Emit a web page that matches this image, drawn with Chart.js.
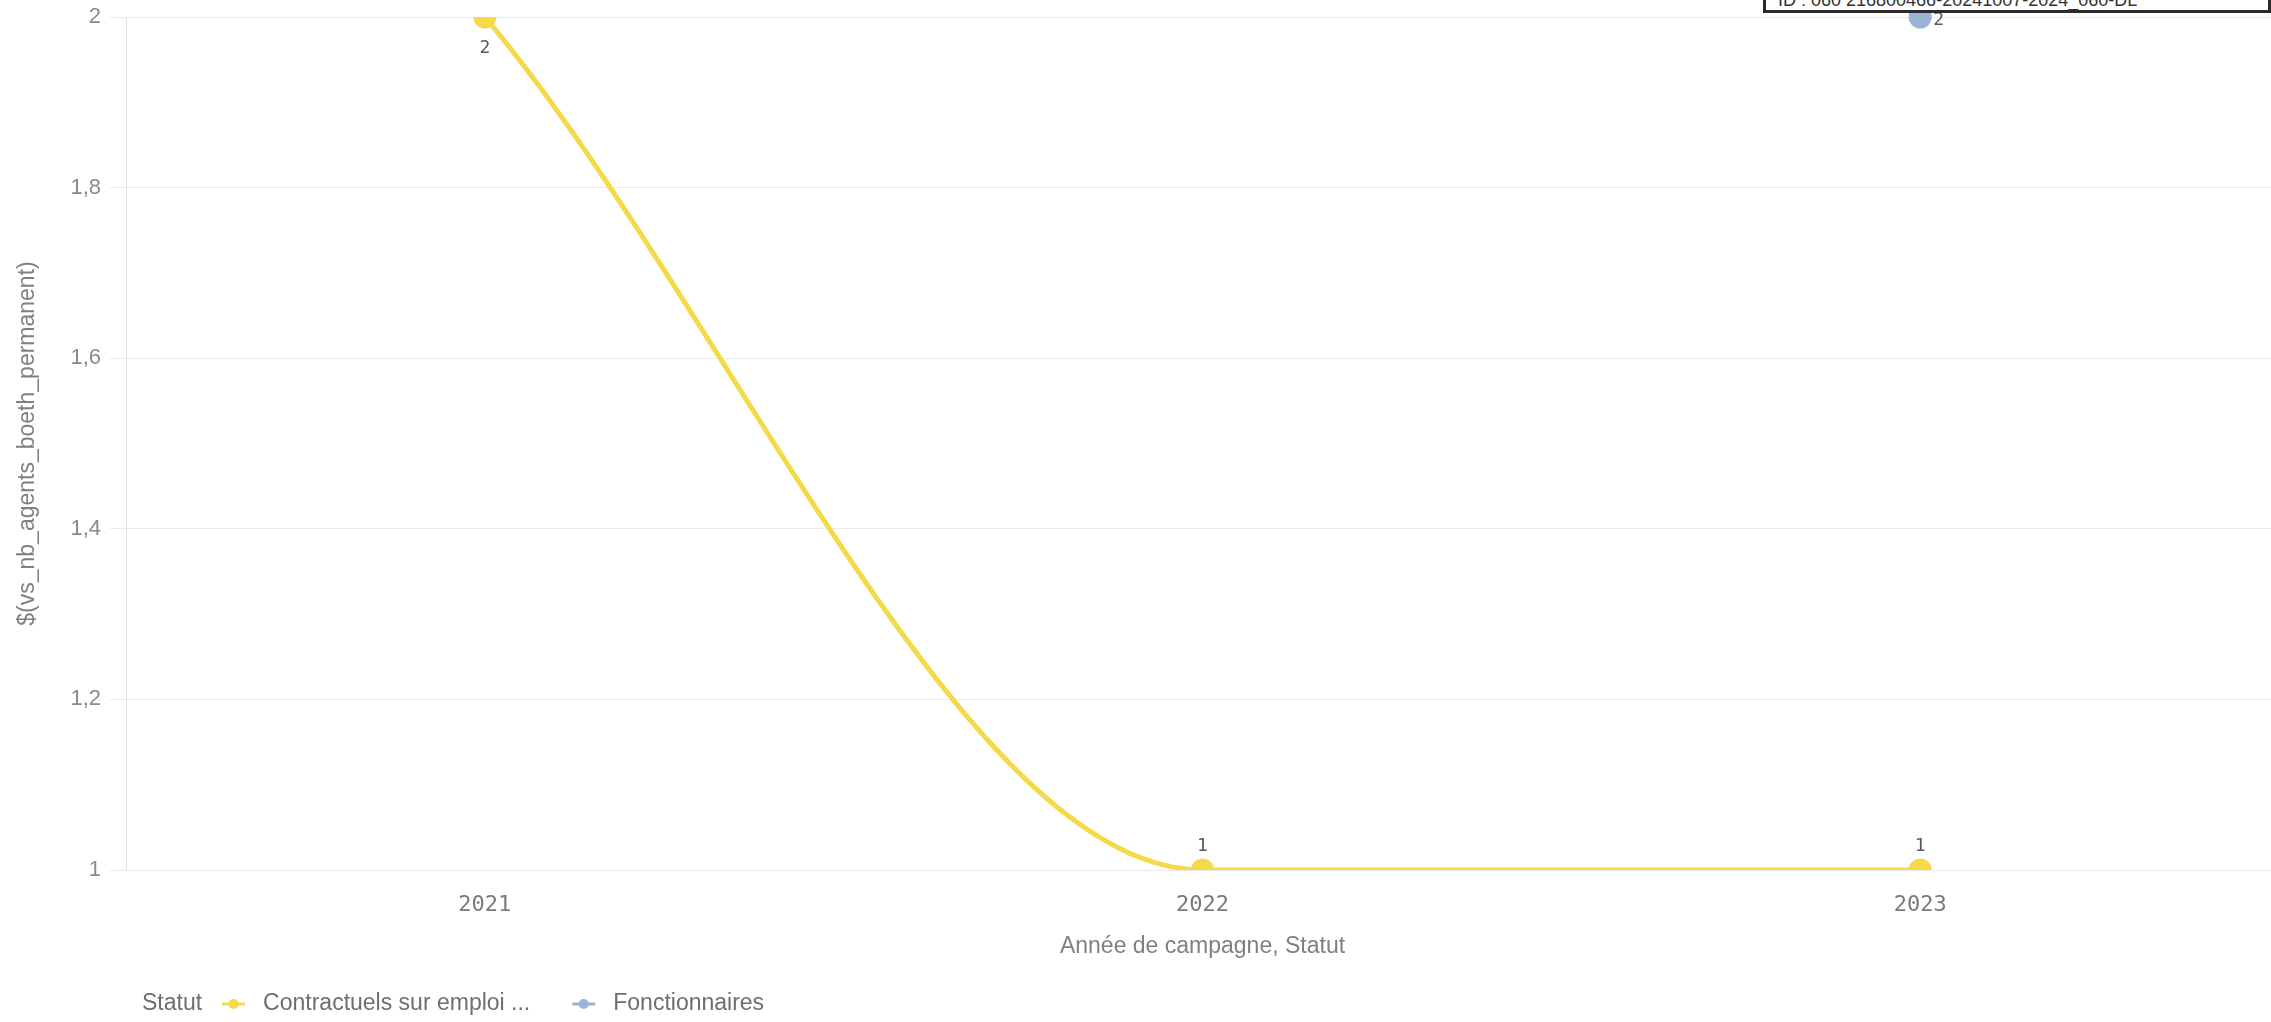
<!DOCTYPE html>
<html>
<head>
<meta charset="utf-8">
<script src="https://cdn.jsdelivr.net/npm/chart.js@4"></script>
<style>
  body { margin: 0; background: #fff; }
  #wrap { position: relative; width: 2271px; height: 1022px; overflow: hidden; }
  #idBox {
    position: absolute; left: 1763px; right: 0; top: -12px; height: 19px;
    border: 3px solid #2b2b2b; background: #fff; color: #333;
    font: 18px "Liberation Sans", Arial, sans-serif; line-height: 19px;
    padding-left: 12px; white-space: nowrap; overflow: hidden;
  }
</style>
</head>
<body>
<div id="wrap">
  <canvas id="lineChart" width="2279" height="1022"></canvas>
  <div id="idBox">ID : 060 216800466-20241007-2024_060-DL</div>
</div>
<script>
const years = ['2021', '2022', '2023']
const contractuels = [2, 1, 1]
const fonctionnaires = [null, null, 2]
const yTicks = [1, 1.2, 1.4, 1.6, 1.8, 2]

const SANS = '"Liberation Sans", Arial, sans-serif'
const MONO = '"DejaVu Sans Mono", monospace'

// value labels next to each point
const valueLabels = {
  id: 'valueLabels',
  afterDatasetsDraw(chart) {
    const ctx = chart.ctx
    const area = chart.chartArea
    ctx.save()
    ctx.font = '18px ' + MONO
    ctx.fillStyle = '#595959'
    chart.data.datasets.forEach((ds, i) => {
      const meta = chart.getDatasetMeta(i)
      const count = ds.data.filter(v => v !== null).length
      meta.data.forEach((pt, j) => {
        const v = ds.data[j]
        if (v === null) return
        if (count === 1) {
          ctx.textAlign = 'left'
          ctx.textBaseline = 'middle'
          ctx.fillText(v, pt.x + 13, pt.y + 3)
        } else if (pt.y - area.top < 20) {
          ctx.textAlign = 'center'
          ctx.textBaseline = 'middle'
          ctx.fillText(v, pt.x, pt.y + 31)
        } else {
          ctx.textAlign = 'center'
          ctx.textBaseline = 'middle'
          ctx.fillText(v, pt.x, pt.y - 24)
        }
      })
    })
    ctx.restore()
  },
}

// legend at the bottom: "Statut" then line+dot markers
const statutLegend = {
  id: 'statutLegend',
  afterDraw(chart) {
    const ctx = chart.ctx
    ctx.save()
    ctx.font = '23px ' + SANS
    ctx.textBaseline = 'middle'
    ctx.textAlign = 'left'
    const y = 1004
    let x = 142
    ctx.fillStyle = '#6e6e6e'
    ctx.fillText('Statut', x, y)
    x += ctx.measureText('Statut').width + 20
    chart.data.datasets.forEach(ds => {
      ctx.strokeStyle = ds.borderColor
      ctx.lineWidth = 3
      ctx.beginPath()
      ctx.moveTo(x, y)
      ctx.lineTo(x + 23, y)
      ctx.stroke()
      ctx.fillStyle = ds.borderColor
      ctx.beginPath()
      ctx.arc(x + 11.5, y, 5, 0, Math.PI * 2)
      ctx.fill()
      x += 23 + 18
      ctx.fillStyle = '#6e6e6e'
      ctx.fillText(ds.label, x, y)
      x += ctx.measureText(ds.label).width + 42
    })
    ctx.restore()
  },
}

new Chart(document.getElementById('lineChart'), {
  type: 'line',
  data: {
    labels: years,
    datasets: [
      {
        label: 'Contractuels sur emploi ...',
        data: contractuels,
        borderColor: '#f4da48',
        backgroundColor: '#f4da48',
        borderWidth: 5,
        pointRadius: 9,
        pointHoverRadius: 9,
        cubicInterpolationMode: 'monotone',
        clip: 0,
      },
      {
        label: 'Fonctionnaires',
        data: fonctionnaires,
        borderColor: '#99b4d5',
        backgroundColor: '#99b4d5',
        borderWidth: 5,
        pointRadius: 9,
        pointHoverRadius: 9,
        clip: false,
      },
    ],
  },
  options: {
    responsive: false,
    animation: false,
    layout: { autoPadding: false, padding: { top: 17, right: 0, bottom: 52, left: 0 } },
    plugins: {
      legend: { display: false },
      tooltip: { enabled: false },
    },
    scales: {
      x: {
        offset: true,
        grid: { display: false, drawTicks: false },
        border: { display: false },
        ticks: { color: '#7a7a7a', font: { family: MONO, size: 22 }, padding: 22 },
        title: {
          display: true,
          text: 'Année de campagne, Statut',
          color: '#808080',
          font: { family: SANS, size: 23 },
          padding: { top: 0, bottom: 10 },
        },
        afterFit(scale) {
          scale.height = 100
          scale.paddingLeft = 0
          scale.paddingRight = 0
        },
      },
      y: {
        min: 1,
        max: 2,
        afterBuildTicks(scale) { scale.ticks = yTicks.map(v => ({ value: v })) },
        grid: { color: '#ebebeb', tickLength: 16 },
        border: { color: '#e3e3e3' },
        ticks: {
          color: '#8a8a8a',
          font: { family: SANS, size: 22 },
          padding: 9,
          callback: v => String(Math.round(v * 10) / 10).replace('.', ','),
        },
        title: {
          display: true,
          text: '$(vs_nb_agents_boeth_permanent)',
          color: '#808080',
          font: { family: SANS, size: 23 },
          padding: { top: 14, bottom: 0 },
        },
        afterFit(scale) {
          scale.width = 126
          scale.paddingTop = 0
          scale.paddingBottom = 0
        },
      },
    },
  },
  plugins: [valueLabels, statutLegend],
})
</script>
</body>
</html>
